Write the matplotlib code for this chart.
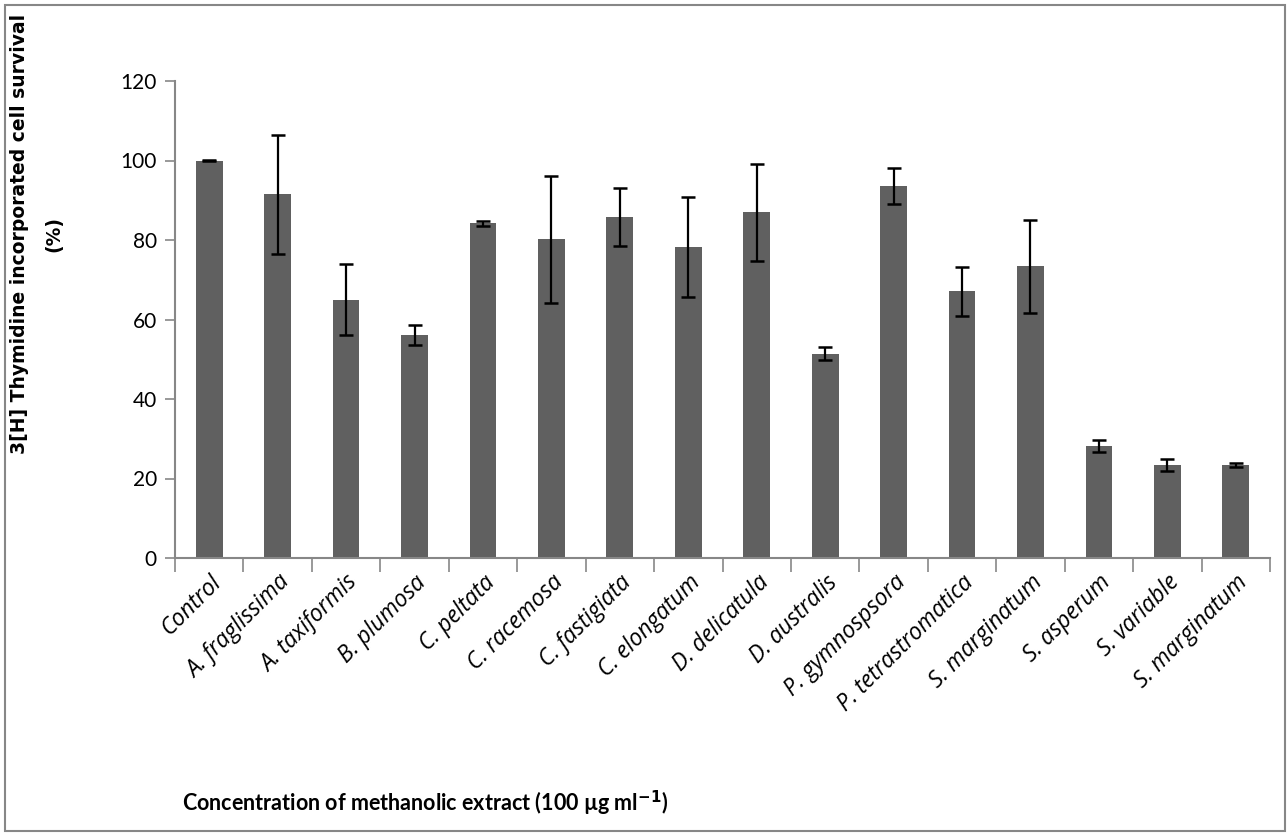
import matplotlib
matplotlib.use("Agg")
import matplotlib.pyplot as plt
from matplotlib.patches import Rectangle
import numpy as np

# species extracts, % survival and error
species = ["Control", "A. fraglissima", "A. taxiformis", "B. plumosa", "C. peltata",
           "C. racemosa", "C. fastigiata", "C. elongatum", "D. delicatula", "D. australis",
           "P. gymnospsora", "P. tetrastromatica", "S. marginatum", "S. asperum",
           "S. variable", "S. marginatum"]
survival = [100.0, 91.5, 65.0, 56.1, 84.2, 80.2, 85.7, 78.2, 87.0, 51.4,
            93.5, 67.1, 73.4, 28.2, 23.4, 23.4]
errors = [0.2, 15.0, 8.9, 2.4, 0.6, 16.0, 7.3, 12.5, 12.2, 1.6,
          4.5, 6.2, 11.7, 1.6, 1.4, 0.5]
y_ticks = [0, 20, 40, 60, 80, 100, 120]

grey = "#878787"

fig = plt.figure(figsize=(12.88, 8.34), dpi=100)
ax = fig.add_axes([175 / 1288, 1 - 558 / 834, (1270 - 175) / 1288, (558 - 81) / 834])

x = np.arange(len(species))
ax.bar(x, survival, width=0.39, color="#606060", zorder=2)
ax.errorbar(x, survival, yerr=errors, fmt="none", ecolor="black",
            elinewidth=1.6, capsize=5, capthick=1.8, zorder=3)

ax.set_xlim(-0.5, len(species) - 0.5)
ax.set_ylim(0, 120)
ax.set_yticks(y_ticks)
ax.set_yticklabels([str(v) for v in y_ticks], fontfamily="Lato", fontsize=15)
ax.tick_params(axis="y", direction="out", length=7, width=1.2, color=grey, pad=6)

# category labels, boundary ticks like excel
ax.set_xticks(x)
ax.set_xticklabels(species, rotation=45, ha="right", rotation_mode="anchor",
                   fontfamily="Open Sans", fontstyle="italic", fontsize=16.5)
ax.tick_params(axis="x", which="major", length=0, pad=9)
ax.set_xticks(np.arange(-0.5, len(species)), minor=True)
ax.tick_params(axis="x", which="minor", direction="out", length=10, width=1.2, color=grey)

for side in ["top", "right"]:
    ax.spines[side].set_visible(False)
for side in ["left", "bottom"]:
    ax.spines[side].set_color(grey)
    ax.spines[side].set_linewidth(1.5)

fig.text(20 / 1288, 1 - 234 / 834, "3[H] Thymidine incorporated cell survival",
         rotation=90, ha="center", va="center", fontsize=13.5, fontweight="bold",
         fontfamily="DejaVu Sans")
fig.text(54 / 1288, 1 - 234 / 834, "(%)", rotation=90, ha="center", va="center",
         fontsize=13.5, fontweight="bold", fontfamily="DejaVu Sans")
fig.text(425 / 1288, 1 - 803 / 834,
         r"Concentration of methanolic extract (100 µg ml$^{\mathbf{-1}}$)",
         ha="center", va="center", fontsize=15.5, fontweight="bold",
         fontfamily="Lato")

fig.patches.append(Rectangle((5 / 1288, 3 / 834), 1280 / 1288, 826 / 834,
                             transform=fig.transFigure, fill=False,
                             edgecolor=grey, linewidth=1.5))

fig.savefig("out.png", dpi=100)
